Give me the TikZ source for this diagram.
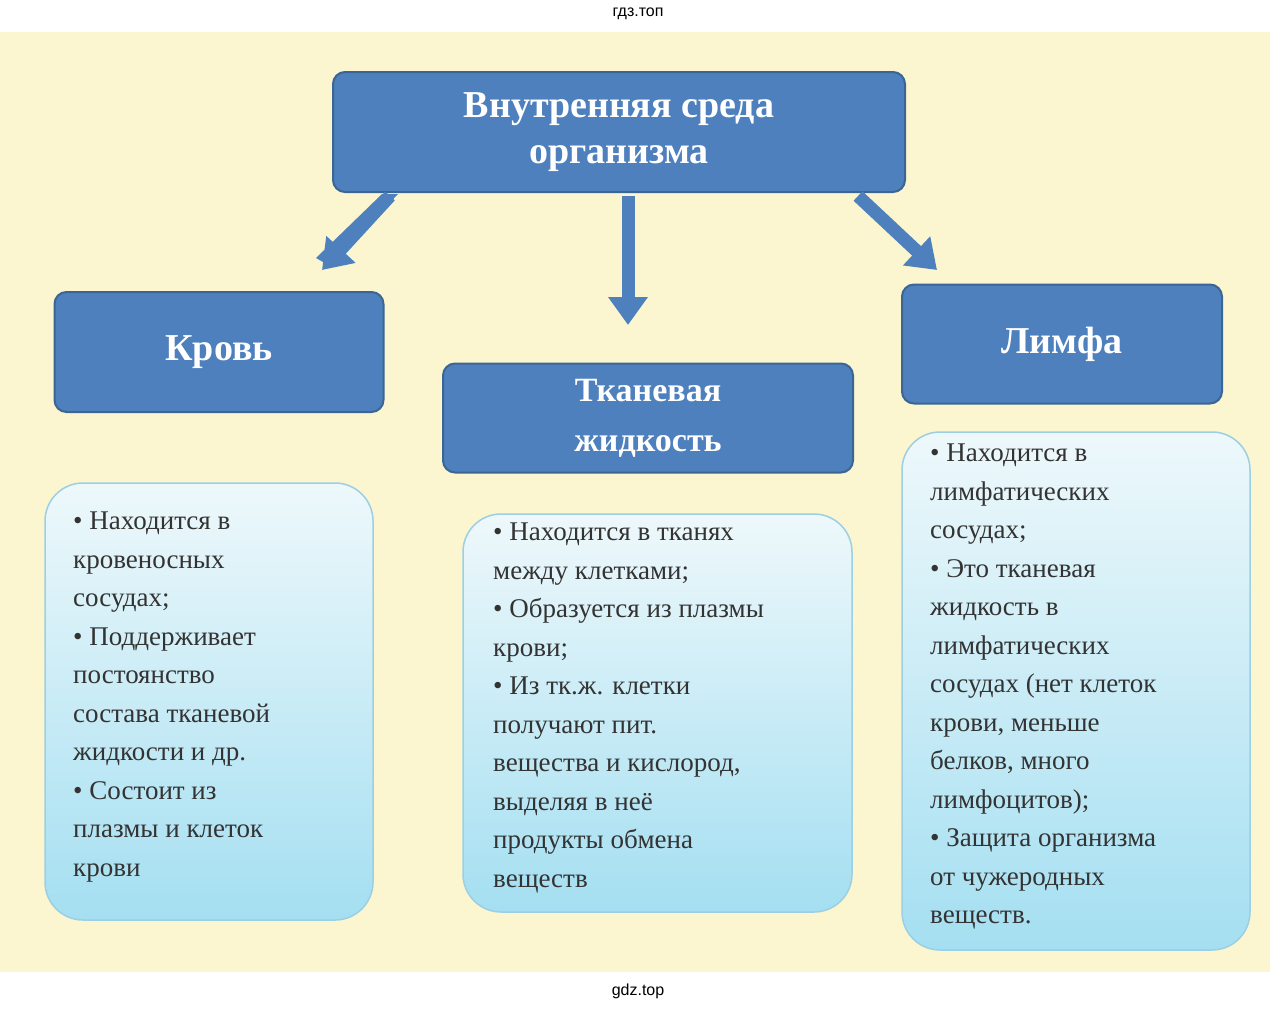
\documentclass[tikz,border=0pt]{standalone}
\usepackage{fontspec}
\setmainfont{Liberation Serif}
\newfontfamily\labfont{Liberation Sans}
\usetikzlibrary{arrows.meta,shadows}
\definecolor{bgy}{HTML}{FBF6CF}
\definecolor{hblue}{HTML}{4E80BD}
\definecolor{hborder}{HTML}{3A6595}
\definecolor{ctop}{HTML}{EEF8FB}
\definecolor{cbot}{HTML}{A4DFF1}
\definecolor{cbord}{HTML}{9CCFE3}
\tikzset{
  head/.style={draw=hborder,line width=2pt,fill=hblue,rounded corners=12pt,text=white,
    font=\fontsize{38}{46}\selectfont\bfseries,align=center,inner sep=0pt},
  content/.style={draw=cbord,line width=1.5pt,rounded corners=38pt,top color=ctop,bottom color=cbot},
  bodytext/.style={align=left,anchor=north west,inner sep=0pt,font=\fontsize{27}{38.5}\selectfont,text=black!80},
  barrow/.style={draw=hborder,line width=13pt,-{Triangle[width=38pt,length=28pt]},hblue}
}
\begin{document}
\begin{tikzpicture}[x=1pt,y=-1pt]
\useasboundingbox (0,0) rectangle (1276,1010);
\fill[white] (0,0) rectangle (1276,1010);
\fill[bgy] (0,32) rectangle (1270,972);
\node[font=\labfont\fontsize{16}{18}\selectfont] (top) at (638,14) {гдз.топ};
\node[font=\labfont\fontsize{16}{18}\selectfont] (bot) at (638,991) {gdz.top};
% headers
\node[head,minimum width=572pt,minimum height=120pt] (title) at (619,132) {Внутренняя среда\\организма};
\node[head,minimum width=329pt,minimum height=120pt] (krov) at (219,352) {Кровь};
\node[head,minimum width=410pt,minimum height=109pt,font=\fontsize{34}{50}\selectfont\bfseries] (tkan) at (648,418) {Тканевая\\жидкость};
\node[head,minimum width=320pt,minimum height=119pt] (limf) at (1062,344) {Лимфа};
% arrows
\coordinate (a1) at (390,196); \coordinate (b1) at (322,270);
\coordinate (a2) at (628,196); \coordinate (b2) at (628,325);
\coordinate (a3) at (858,196); \coordinate (b3) at (937,270);
\draw[barrow] (a1) -- (b1);
\draw[barrow] (a2) -- (b2);
\draw[barrow] (a3) -- (b3);
\fill[hblue] (382,194) -- (398,194) -- (330,266) -- (316,258) -- cycle;
% content boxes
\draw[content] (45,483) rectangle (373,920);
\draw[content] (463,514) rectangle (852,912);
\draw[content] (902,432) rectangle (1250,950);
\node[bodytext] (t1) at (73,512) {• Находится в\\кровеносных\\сосудах;\\• Поддерживает\\постоянство\\состава тканевой\\жидкости и др.\\• Состоит из\\плазмы и клеток\\крови};
\node[bodytext] (t2) at (493,523) {• Находится в тканях\\между клетками;\\• Образуется из плазмы\\крови;\\• Из тк.ж. клетки\\получают пит.\\вещества и кислород,\\выделяя в неё\\продукты обмена\\веществ};
\node[bodytext] (t3) at (930,444) {• Находится в\\лимфатических\\сосудах;\\• Это тканевая\\жидкость в\\лимфатических\\сосудах (нет клеток\\крови, меньше\\белков, много\\лимфоцитов);\\• Защита организма\\от чужеродных\\веществ.};
\end{tikzpicture}
\end{document}
